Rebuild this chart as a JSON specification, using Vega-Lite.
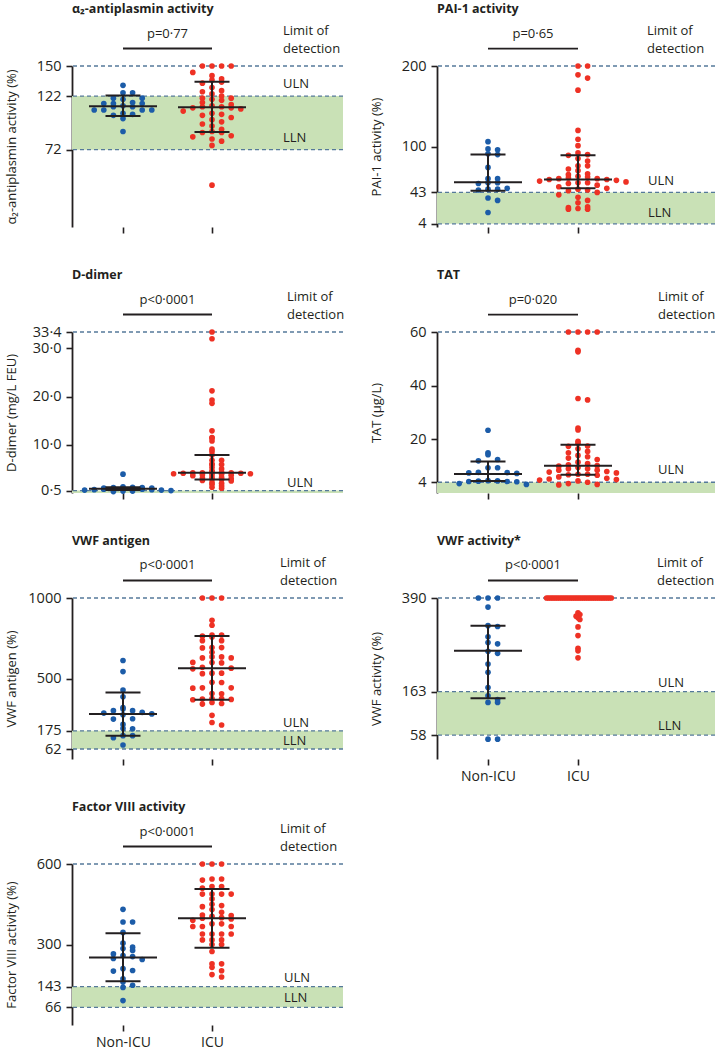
{
"$schema": "https://vega.github.io/schema/vega-lite/v6.json",
"autosize": "none",
"padding": {"left": 72, "top": 66, "right": 644, "bottom": 982},
"config": {
  "font": "Open Sans",
  "view": {"stroke": null},
  "style": {"guide-label": {"fontSize": 14.5, "fill": "#231f20"}},
  "axis": {"grid": false, "domainColor": "#231f20", "domainWidth": 1.8, "tickColor": "#231f20", "tickWidth": 1.6, "tickSize": 6, "labelColor": "#231f20", "labelFontSize": 14.5, "labelPadding": 5, "titleColor": "#231f20", "titleFontSize": 13, "titleFontWeight": "normal", "labelOverlap": false},
  "title": {"fontSize": 12.5, "fontWeight": "bold", "anchor": "start", "frame": "group", "color": "#231f20", "baseline": "alphabetic", "offset": 10},
  "text": {"fontSize": 13, "color": "#231f20"}
},
"datasets": {
  "bands": [
    {"panel": "a2", "lo": 72, "hi": 122}, {"panel": "pai", "lo": 4, "hi": 43}, {"panel": "dd", "lo": 0, "hi": 0.5}, {"panel": "tat", "lo": 0, "hi": 4},
    {"panel": "vag", "lo": 62, "hi": 175}, {"panel": "vac", "lo": 58, "hi": 163}, {"panel": "f8", "lo": 66, "hi": 143}
  ],
  "refs": [
    {"panel": "a2", "label": "Limit of\ndetection", "value": 150}, {"panel": "a2", "label": "ULN", "value": 122}, {"panel": "a2", "label": "LLN", "value": 72},
    {"panel": "pai", "label": "Limit of\ndetection", "value": 200}, {"panel": "pai", "label": "ULN", "value": 43}, {"panel": "pai", "label": "LLN", "value": 4},
    {"panel": "dd", "label": "Limit of\ndetection", "value": 33.4}, {"panel": "dd", "label": "ULN", "value": 0.5},
    {"panel": "tat", "label": "Limit of\ndetection", "value": 60}, {"panel": "tat", "label": "ULN", "value": 4},
    {"panel": "vag", "label": "Limit of\ndetection", "value": 1000}, {"panel": "vag", "label": "ULN", "value": 175}, {"panel": "vag", "label": "LLN", "value": 62},
    {"panel": "vac", "label": "Limit of\ndetection", "value": 390}, {"panel": "vac", "label": "ULN", "value": 163}, {"panel": "vac", "label": "LLN", "value": 58},
    {"panel": "f8", "label": "Limit of\ndetection", "value": 600}, {"panel": "f8", "label": "ULN", "value": 143}, {"panel": "f8", "label": "LLN", "value": 66}
  ],
  "tests": [
    {"panel": "a2", "p": "p=0·77"}, {"panel": "pai", "p": "p=0·65"}, {"panel": "dd", "p": "p<0·0001"}, {"panel": "tat", "p": "p=0·020"},
    {"panel": "vag", "p": "p<0·0001"}, {"panel": "vac", "p": "p<0·0001"}, {"panel": "f8", "p": "p<0·0001"}
  ],
  "summary": [
    {"panel": "a2", "group": "Non-ICU", "median": 112.5, "q1": 103.3, "q3": 122.4}, {"panel": "a2", "group": "ICU", "median": 111.6, "q1": 88.6, "q3": 135.3},
    {"panel": "pai", "group": "Non-ICU", "median": 55.5, "q1": 45, "q3": 90}, {"panel": "pai", "group": "ICU", "median": 59, "q1": 48, "q3": 89},
    {"panel": "dd", "group": "Non-ICU", "median": 0.9, "q1": 0.6, "q3": 1.2}, {"panel": "dd", "group": "ICU", "median": 4.2, "q1": 2.8, "q3": 7.9},
    {"panel": "tat", "group": "Non-ICU", "median": 7.1, "q1": 4.5, "q3": 11.7}, {"panel": "tat", "group": "ICU", "median": 10.2, "q1": 6.8, "q3": 18},
    {"panel": "vag", "group": "Non-ICU", "median": 279, "q1": 145, "q3": 413}, {"panel": "vag", "group": "ICU", "median": 564, "q1": 368, "q3": 764},
    {"panel": "vac", "group": "Non-ICU", "median": 262, "q1": 147, "q3": 323},
    {"panel": "f8", "group": "Non-ICU", "median": 252, "q1": 163, "q3": 342}, {"panel": "f8", "group": "ICU", "median": 398, "q1": 288, "q3": 507}
  ],
  "points": [
    {"panel":"a2","group":"Non-ICU","value":132},{"panel":"a2","group":"Non-ICU","value":125},{"panel":"a2","group":"Non-ICU","value":125},{"panel":"a2","group":"Non-ICU","value":120},{"panel":"a2","group":"Non-ICU","value":120},{"panel":"a2","group":"Non-ICU","value":119},{"panel":"a2","group":"Non-ICU","value":116},{"panel":"a2","group":"Non-ICU","value":115},{"panel":"a2","group":"Non-ICU","value":115},{"panel":"a2","group":"Non-ICU","value":115},{"panel":"a2","group":"Non-ICU","value":113},{"panel":"a2","group":"Non-ICU","value":112},{"panel":"a2","group":"Non-ICU","value":112},{"panel":"a2","group":"Non-ICU","value":109},{"panel":"a2","group":"Non-ICU","value":109},{"panel":"a2","group":"Non-ICU","value":109},{"panel":"a2","group":"Non-ICU","value":109},{"panel":"a2","group":"Non-ICU","value":106},{"panel":"a2","group":"Non-ICU","value":105},{"panel":"a2","group":"Non-ICU","value":104},{"panel":"a2","group":"Non-ICU","value":101},{"panel":"a2","group":"Non-ICU","value":89},
    {"panel":"a2","group":"ICU","value":150},{"panel":"a2","group":"ICU","value":150},{"panel":"a2","group":"ICU","value":150},{"panel":"a2","group":"ICU","value":150},{"panel":"a2","group":"ICU","value":144},{"panel":"a2","group":"ICU","value":141},{"panel":"a2","group":"ICU","value":138},{"panel":"a2","group":"ICU","value":137},{"panel":"a2","group":"ICU","value":135},{"panel":"a2","group":"ICU","value":134},{"panel":"a2","group":"ICU","value":130},{"panel":"a2","group":"ICU","value":127},{"panel":"a2","group":"ICU","value":126},{"panel":"a2","group":"ICU","value":124},{"panel":"a2","group":"ICU","value":122},{"panel":"a2","group":"ICU","value":120},{"panel":"a2","group":"ICU","value":120},{"panel":"a2","group":"ICU","value":119},{"panel":"a2","group":"ICU","value":118},{"panel":"a2","group":"ICU","value":116},{"panel":"a2","group":"ICU","value":114},{"panel":"a2","group":"ICU","value":113},{"panel":"a2","group":"ICU","value":112},{"panel":"a2","group":"ICU","value":112},{"panel":"a2","group":"ICU","value":111},{"panel":"a2","group":"ICU","value":111},{"panel":"a2","group":"ICU","value":110},{"panel":"a2","group":"ICU","value":108},{"panel":"a2","group":"ICU","value":106},{"panel":"a2","group":"ICU","value":105},{"panel":"a2","group":"ICU","value":104},{"panel":"a2","group":"ICU","value":102},{"panel":"a2","group":"ICU","value":100},{"panel":"a2","group":"ICU","value":98},{"panel":"a2","group":"ICU","value":96},{"panel":"a2","group":"ICU","value":94},{"panel":"a2","group":"ICU","value":91},{"panel":"a2","group":"ICU","value":89},{"panel":"a2","group":"ICU","value":88},{"panel":"a2","group":"ICU","value":88},{"panel":"a2","group":"ICU","value":85},{"panel":"a2","group":"ICU","value":84},{"panel":"a2","group":"ICU","value":82},{"panel":"a2","group":"ICU","value":80},{"panel":"a2","group":"ICU","value":76},{"panel":"a2","group":"ICU","value":39},
    {"panel":"pai","group":"Non-ICU","value":106},{"panel":"pai","group":"Non-ICU","value":97},{"panel":"pai","group":"Non-ICU","value":96},{"panel":"pai","group":"Non-ICU","value":91},{"panel":"pai","group":"Non-ICU","value":90},{"panel":"pai","group":"Non-ICU","value":74},{"panel":"pai","group":"Non-ICU","value":60},{"panel":"pai","group":"Non-ICU","value":60},{"panel":"pai","group":"Non-ICU","value":55},{"panel":"pai","group":"Non-ICU","value":55},{"panel":"pai","group":"Non-ICU","value":54},{"panel":"pai","group":"Non-ICU","value":48},{"panel":"pai","group":"Non-ICU","value":47},{"panel":"pai","group":"Non-ICU","value":47},{"panel":"pai","group":"Non-ICU","value":46},{"panel":"pai","group":"Non-ICU","value":36},{"panel":"pai","group":"Non-ICU","value":33},{"panel":"pai","group":"Non-ICU","value":18},
    {"panel":"pai","group":"ICU","value":200},{"panel":"pai","group":"ICU","value":200},{"panel":"pai","group":"ICU","value":189},{"panel":"pai","group":"ICU","value":185},{"panel":"pai","group":"ICU","value":170},{"panel":"pai","group":"ICU","value":120},{"panel":"pai","group":"ICU","value":109},{"panel":"pai","group":"ICU","value":101},{"panel":"pai","group":"ICU","value":92},{"panel":"pai","group":"ICU","value":90},{"panel":"pai","group":"ICU","value":89},{"panel":"pai","group":"ICU","value":85},{"panel":"pai","group":"ICU","value":82},{"panel":"pai","group":"ICU","value":76},{"panel":"pai","group":"ICU","value":76},{"panel":"pai","group":"ICU","value":72},{"panel":"pai","group":"ICU","value":70},{"panel":"pai","group":"ICU","value":66},{"panel":"pai","group":"ICU","value":65},{"panel":"pai","group":"ICU","value":63},{"panel":"pai","group":"ICU","value":62},{"panel":"pai","group":"ICU","value":61},{"panel":"pai","group":"ICU","value":60},{"panel":"pai","group":"ICU","value":60},{"panel":"pai","group":"ICU","value":59},{"panel":"pai","group":"ICU","value":59},{"panel":"pai","group":"ICU","value":58},{"panel":"pai","group":"ICU","value":57},{"panel":"pai","group":"ICU","value":56},{"panel":"pai","group":"ICU","value":55},{"panel":"pai","group":"ICU","value":55},{"panel":"pai","group":"ICU","value":54},{"panel":"pai","group":"ICU","value":52},{"panel":"pai","group":"ICU","value":50},{"panel":"pai","group":"ICU","value":48},{"panel":"pai","group":"ICU","value":47},{"panel":"pai","group":"ICU","value":46},{"panel":"pai","group":"ICU","value":45},{"panel":"pai","group":"ICU","value":43},{"panel":"pai","group":"ICU","value":40},{"panel":"pai","group":"ICU","value":37},{"panel":"pai","group":"ICU","value":33},{"panel":"pai","group":"ICU","value":30},{"panel":"pai","group":"ICU","value":25},{"panel":"pai","group":"ICU","value":24},{"panel":"pai","group":"ICU","value":23},{"panel":"pai","group":"ICU","value":22},{"panel":"pai","group":"ICU","value":22},
    {"panel":"dd","group":"Non-ICU","value":3.9},{"panel":"dd","group":"Non-ICU","value":1.3},{"panel":"dd","group":"Non-ICU","value":1.2},{"panel":"dd","group":"Non-ICU","value":1.1},{"panel":"dd","group":"Non-ICU","value":1.1},{"panel":"dd","group":"Non-ICU","value":1.0},{"panel":"dd","group":"Non-ICU","value":1.0},{"panel":"dd","group":"Non-ICU","value":0.9},{"panel":"dd","group":"Non-ICU","value":0.9},{"panel":"dd","group":"Non-ICU","value":0.9},{"panel":"dd","group":"Non-ICU","value":0.8},{"panel":"dd","group":"Non-ICU","value":0.8},{"panel":"dd","group":"Non-ICU","value":0.7},{"panel":"dd","group":"Non-ICU","value":0.7},{"panel":"dd","group":"Non-ICU","value":0.6},{"panel":"dd","group":"Non-ICU","value":0.6},{"panel":"dd","group":"Non-ICU","value":0.5},{"panel":"dd","group":"Non-ICU","value":0.4},{"panel":"dd","group":"Non-ICU","value":0.4},{"panel":"dd","group":"Non-ICU","value":0.3},
    {"panel":"dd","group":"ICU","value":33.4},{"panel":"dd","group":"ICU","value":32.0},{"panel":"dd","group":"ICU","value":21.2},{"panel":"dd","group":"ICU","value":19.3},{"panel":"dd","group":"ICU","value":18.6},{"panel":"dd","group":"ICU","value":12.9},{"panel":"dd","group":"ICU","value":11.5},{"panel":"dd","group":"ICU","value":11.4},{"panel":"dd","group":"ICU","value":10.8},{"panel":"dd","group":"ICU","value":9.1},{"panel":"dd","group":"ICU","value":8.6},{"panel":"dd","group":"ICU","value":7.9},{"panel":"dd","group":"ICU","value":6.8},{"panel":"dd","group":"ICU","value":6.8},{"panel":"dd","group":"ICU","value":6.0},{"panel":"dd","group":"ICU","value":5.9},{"panel":"dd","group":"ICU","value":5.9},{"panel":"dd","group":"ICU","value":5.3},{"panel":"dd","group":"ICU","value":5.0},{"panel":"dd","group":"ICU","value":4.6},{"panel":"dd","group":"ICU","value":4.4},{"panel":"dd","group":"ICU","value":4.3},{"panel":"dd","group":"ICU","value":4.2},{"panel":"dd","group":"ICU","value":4.2},{"panel":"dd","group":"ICU","value":4.2},{"panel":"dd","group":"ICU","value":4.1},{"panel":"dd","group":"ICU","value":4.1},{"panel":"dd","group":"ICU","value":4.0},{"panel":"dd","group":"ICU","value":4.0},{"panel":"dd","group":"ICU","value":3.9},{"panel":"dd","group":"ICU","value":3.9},{"panel":"dd","group":"ICU","value":3.8},{"panel":"dd","group":"ICU","value":3.7},{"panel":"dd","group":"ICU","value":3.6},{"panel":"dd","group":"ICU","value":3.3},{"panel":"dd","group":"ICU","value":3.2},{"panel":"dd","group":"ICU","value":3.1},{"panel":"dd","group":"ICU","value":3.0},{"panel":"dd","group":"ICU","value":2.9},{"panel":"dd","group":"ICU","value":2.8},{"panel":"dd","group":"ICU","value":2.6},{"panel":"dd","group":"ICU","value":2.5},{"panel":"dd","group":"ICU","value":2.2},{"panel":"dd","group":"ICU","value":2.0},{"panel":"dd","group":"ICU","value":1.8},{"panel":"dd","group":"ICU","value":1.5},{"panel":"dd","group":"ICU","value":1.2},{"panel":"dd","group":"ICU","value":1.0},
    {"panel":"tat","group":"Non-ICU","value":23.4},{"panel":"tat","group":"Non-ICU","value":15},{"panel":"tat","group":"Non-ICU","value":14.3},{"panel":"tat","group":"Non-ICU","value":12.5},{"panel":"tat","group":"Non-ICU","value":12},{"panel":"tat","group":"Non-ICU","value":9.4},{"panel":"tat","group":"Non-ICU","value":9.4},{"panel":"tat","group":"Non-ICU","value":7.7},{"panel":"tat","group":"Non-ICU","value":7.6},{"panel":"tat","group":"Non-ICU","value":7.5},{"panel":"tat","group":"Non-ICU","value":7.3},{"panel":"tat","group":"Non-ICU","value":4.6},{"panel":"tat","group":"Non-ICU","value":4.5},{"panel":"tat","group":"Non-ICU","value":4.4},{"panel":"tat","group":"Non-ICU","value":4.3},{"panel":"tat","group":"Non-ICU","value":4.3},{"panel":"tat","group":"Non-ICU","value":4.2},{"panel":"tat","group":"Non-ICU","value":3.5},{"panel":"tat","group":"Non-ICU","value":3.2},
    {"panel":"tat","group":"ICU","value":60},{"panel":"tat","group":"ICU","value":60},{"panel":"tat","group":"ICU","value":60},{"panel":"tat","group":"ICU","value":60},{"panel":"tat","group":"ICU","value":53.2},{"panel":"tat","group":"ICU","value":52.6},{"panel":"tat","group":"ICU","value":35.2},{"panel":"tat","group":"ICU","value":34.7},{"panel":"tat","group":"ICU","value":24.2},{"panel":"tat","group":"ICU","value":23.5},{"panel":"tat","group":"ICU","value":19.3},{"panel":"tat","group":"ICU","value":18.5},{"panel":"tat","group":"ICU","value":17.5},{"panel":"tat","group":"ICU","value":17.4},{"panel":"tat","group":"ICU","value":16.5},{"panel":"tat","group":"ICU","value":15.5},{"panel":"tat","group":"ICU","value":15},{"panel":"tat","group":"ICU","value":14},{"panel":"tat","group":"ICU","value":13.5},{"panel":"tat","group":"ICU","value":13},{"panel":"tat","group":"ICU","value":12.5},{"panel":"tat","group":"ICU","value":11.5},{"panel":"tat","group":"ICU","value":11},{"panel":"tat","group":"ICU","value":10.5},{"panel":"tat","group":"ICU","value":10.2},{"panel":"tat","group":"ICU","value":10},{"panel":"tat","group":"ICU","value":9.5},{"panel":"tat","group":"ICU","value":9},{"panel":"tat","group":"ICU","value":9},{"panel":"tat","group":"ICU","value":8.5},{"panel":"tat","group":"ICU","value":8.5},{"panel":"tat","group":"ICU","value":8},{"panel":"tat","group":"ICU","value":7.8},{"panel":"tat","group":"ICU","value":7.5},{"panel":"tat","group":"ICU","value":7},{"panel":"tat","group":"ICU","value":7},{"panel":"tat","group":"ICU","value":6.8},{"panel":"tat","group":"ICU","value":6.6},{"panel":"tat","group":"ICU","value":6},{"panel":"tat","group":"ICU","value":5.5},{"panel":"tat","group":"ICU","value":5.2},{"panel":"tat","group":"ICU","value":5},{"panel":"tat","group":"ICU","value":4.8},{"panel":"tat","group":"ICU","value":4.5},{"panel":"tat","group":"ICU","value":4},{"panel":"tat","group":"ICU","value":3.5},{"panel":"tat","group":"ICU","value":3.2},{"panel":"tat","group":"ICU","value":3},
    {"panel":"vag","group":"Non-ICU","value":612},{"panel":"vag","group":"Non-ICU","value":543},{"panel":"vag","group":"Non-ICU","value":428},{"panel":"vag","group":"Non-ICU","value":386},{"panel":"vag","group":"Non-ICU","value":320},{"panel":"vag","group":"Non-ICU","value":310},{"panel":"vag","group":"Non-ICU","value":300},{"panel":"vag","group":"Non-ICU","value":300},{"panel":"vag","group":"Non-ICU","value":290},{"panel":"vag","group":"Non-ICU","value":285},{"panel":"vag","group":"Non-ICU","value":280},{"panel":"vag","group":"Non-ICU","value":275},{"panel":"vag","group":"Non-ICU","value":250},{"panel":"vag","group":"Non-ICU","value":248},{"panel":"vag","group":"Non-ICU","value":215},{"panel":"vag","group":"Non-ICU","value":190},{"panel":"vag","group":"Non-ICU","value":188},{"panel":"vag","group":"Non-ICU","value":145},{"panel":"vag","group":"Non-ICU","value":145},{"panel":"vag","group":"Non-ICU","value":132},{"panel":"vag","group":"Non-ICU","value":87},
    {"panel":"vag","group":"ICU","value":1000},{"panel":"vag","group":"ICU","value":1000},{"panel":"vag","group":"ICU","value":1000},{"panel":"vag","group":"ICU","value":862},{"panel":"vag","group":"ICU","value":831},{"panel":"vag","group":"ICU","value":770},{"panel":"vag","group":"ICU","value":770},{"panel":"vag","group":"ICU","value":763},{"panel":"vag","group":"ICU","value":758},{"panel":"vag","group":"ICU","value":735},{"panel":"vag","group":"ICU","value":735},{"panel":"vag","group":"ICU","value":692},{"panel":"vag","group":"ICU","value":692},{"panel":"vag","group":"ICU","value":690},{"panel":"vag","group":"ICU","value":663},{"panel":"vag","group":"ICU","value":634},{"panel":"vag","group":"ICU","value":634},{"panel":"vag","group":"ICU","value":628},{"panel":"vag","group":"ICU","value":628},{"panel":"vag","group":"ICU","value":600},{"panel":"vag","group":"ICU","value":599},{"panel":"vag","group":"ICU","value":597},{"panel":"vag","group":"ICU","value":570},{"panel":"vag","group":"ICU","value":564},{"panel":"vag","group":"ICU","value":560},{"panel":"vag","group":"ICU","value":533},{"panel":"vag","group":"ICU","value":533},{"panel":"vag","group":"ICU","value":530},{"panel":"vag","group":"ICU","value":477},{"panel":"vag","group":"ICU","value":475},{"panel":"vag","group":"ICU","value":442},{"panel":"vag","group":"ICU","value":442},{"panel":"vag","group":"ICU","value":440},{"panel":"vag","group":"ICU","value":407},{"panel":"vag","group":"ICU","value":405},{"panel":"vag","group":"ICU","value":376},{"panel":"vag","group":"ICU","value":376},{"panel":"vag","group":"ICU","value":372},{"panel":"vag","group":"ICU","value":370},{"panel":"vag","group":"ICU","value":368},{"panel":"vag","group":"ICU","value":351},{"panel":"vag","group":"ICU","value":345},{"panel":"vag","group":"ICU","value":341},{"panel":"vag","group":"ICU","value":271},{"panel":"vag","group":"ICU","value":227},{"panel":"vag","group":"ICU","value":211},
    {"panel":"vac","group":"Non-ICU","value":390},{"panel":"vac","group":"Non-ICU","value":390},{"panel":"vac","group":"Non-ICU","value":390},{"panel":"vac","group":"Non-ICU","value":368},{"panel":"vac","group":"Non-ICU","value":323},{"panel":"vac","group":"Non-ICU","value":321},{"panel":"vac","group":"Non-ICU","value":296},{"panel":"vac","group":"Non-ICU","value":282},{"panel":"vac","group":"Non-ICU","value":279},{"panel":"vac","group":"Non-ICU","value":261},{"panel":"vac","group":"Non-ICU","value":256},{"panel":"vac","group":"Non-ICU","value":230},{"panel":"vac","group":"Non-ICU","value":210},{"panel":"vac","group":"Non-ICU","value":173},{"panel":"vac","group":"Non-ICU","value":153},{"panel":"vac","group":"Non-ICU","value":144},{"panel":"vac","group":"Non-ICU","value":137},{"panel":"vac","group":"Non-ICU","value":137},{"panel":"vac","group":"Non-ICU","value":48},{"panel":"vac","group":"Non-ICU","value":48},
    {"panel":"vac","group":"ICU","value":390},{"panel":"vac","group":"ICU","value":390},{"panel":"vac","group":"ICU","value":390},{"panel":"vac","group":"ICU","value":390},{"panel":"vac","group":"ICU","value":390},{"panel":"vac","group":"ICU","value":390},{"panel":"vac","group":"ICU","value":390},{"panel":"vac","group":"ICU","value":390},{"panel":"vac","group":"ICU","value":390},{"panel":"vac","group":"ICU","value":390},{"panel":"vac","group":"ICU","value":390},{"panel":"vac","group":"ICU","value":390},{"panel":"vac","group":"ICU","value":390},{"panel":"vac","group":"ICU","value":390},{"panel":"vac","group":"ICU","value":390},{"panel":"vac","group":"ICU","value":390},{"panel":"vac","group":"ICU","value":390},{"panel":"vac","group":"ICU","value":390},{"panel":"vac","group":"ICU","value":390},{"panel":"vac","group":"ICU","value":390},{"panel":"vac","group":"ICU","value":390},{"panel":"vac","group":"ICU","value":390},{"panel":"vac","group":"ICU","value":390},{"panel":"vac","group":"ICU","value":390},{"panel":"vac","group":"ICU","value":390},{"panel":"vac","group":"ICU","value":390},{"panel":"vac","group":"ICU","value":390},{"panel":"vac","group":"ICU","value":390},{"panel":"vac","group":"ICU","value":390},{"panel":"vac","group":"ICU","value":390},{"panel":"vac","group":"ICU","value":390},{"panel":"vac","group":"ICU","value":390},{"panel":"vac","group":"ICU","value":390},{"panel":"vac","group":"ICU","value":390},{"panel":"vac","group":"ICU","value":390},{"panel":"vac","group":"ICU","value":390},{"panel":"vac","group":"ICU","value":354},{"panel":"vac","group":"ICU","value":350},{"panel":"vac","group":"ICU","value":346},{"panel":"vac","group":"ICU","value":342},{"panel":"vac","group":"ICU","value":338},{"panel":"vac","group":"ICU","value":320},{"panel":"vac","group":"ICU","value":299},{"panel":"vac","group":"ICU","value":268},{"panel":"vac","group":"ICU","value":262},{"panel":"vac","group":"ICU","value":245},
    {"panel":"f8","group":"Non-ICU","value":431},{"panel":"f8","group":"Non-ICU","value":384},{"panel":"f8","group":"Non-ICU","value":384},{"panel":"f8","group":"Non-ICU","value":345},{"panel":"f8","group":"Non-ICU","value":305},{"panel":"f8","group":"Non-ICU","value":290},{"panel":"f8","group":"Non-ICU","value":285},{"panel":"f8","group":"Non-ICU","value":278},{"panel":"f8","group":"Non-ICU","value":265},{"panel":"f8","group":"Non-ICU","value":259},{"panel":"f8","group":"Non-ICU","value":255},{"panel":"f8","group":"Non-ICU","value":248},{"panel":"f8","group":"Non-ICU","value":244},{"panel":"f8","group":"Non-ICU","value":210},{"panel":"f8","group":"Non-ICU","value":203},{"panel":"f8","group":"Non-ICU","value":201},{"panel":"f8","group":"Non-ICU","value":172},{"panel":"f8","group":"Non-ICU","value":160},{"panel":"f8","group":"Non-ICU","value":148},{"panel":"f8","group":"Non-ICU","value":140},{"panel":"f8","group":"Non-ICU","value":91},
    {"panel":"f8","group":"ICU","value":600},{"panel":"f8","group":"ICU","value":600},{"panel":"f8","group":"ICU","value":600},{"panel":"f8","group":"ICU","value":544},{"panel":"f8","group":"ICU","value":544},{"panel":"f8","group":"ICU","value":540},{"panel":"f8","group":"ICU","value":516},{"panel":"f8","group":"ICU","value":516},{"panel":"f8","group":"ICU","value":510},{"panel":"f8","group":"ICU","value":488},{"panel":"f8","group":"ICU","value":488},{"panel":"f8","group":"ICU","value":488},{"panel":"f8","group":"ICU","value":488},{"panel":"f8","group":"ICU","value":470},{"panel":"f8","group":"ICU","value":450},{"panel":"f8","group":"ICU","value":445},{"panel":"f8","group":"ICU","value":441},{"panel":"f8","group":"ICU","value":430},{"panel":"f8","group":"ICU","value":420},{"panel":"f8","group":"ICU","value":410},{"panel":"f8","group":"ICU","value":408},{"panel":"f8","group":"ICU","value":405},{"panel":"f8","group":"ICU","value":400},{"panel":"f8","group":"ICU","value":398},{"panel":"f8","group":"ICU","value":395},{"panel":"f8","group":"ICU","value":390},{"panel":"f8","group":"ICU","value":377},{"panel":"f8","group":"ICU","value":377},{"panel":"f8","group":"ICU","value":367},{"panel":"f8","group":"ICU","value":367},{"panel":"f8","group":"ICU","value":367},{"panel":"f8","group":"ICU","value":339},{"panel":"f8","group":"ICU","value":339},{"panel":"f8","group":"ICU","value":339},{"panel":"f8","group":"ICU","value":339},{"panel":"f8","group":"ICU","value":317},{"panel":"f8","group":"ICU","value":317},{"panel":"f8","group":"ICU","value":317},{"panel":"f8","group":"ICU","value":300},{"panel":"f8","group":"ICU","value":300},{"panel":"f8","group":"ICU","value":274},{"panel":"f8","group":"ICU","value":228},{"panel":"f8","group":"ICU","value":228},{"panel":"f8","group":"ICU","value":215},{"panel":"f8","group":"ICU","value":202},{"panel":"f8","group":"ICU","value":188},{"panel":"f8","group":"ICU","value":179}
  ]
},
"columns": 2,
"spacing": {"row": 105, "column": 94},
"bounds": "flush",
"concat": [
  {
    "width": 271, "height": 161,
    "title": {"text": "α₂-antiplasmin activity"},
    "layer": [
      {"data": {"name": "bands"}, "transform": [{"filter": "datum.panel==='a2'"}], "mark": {"type": "rect", "color": "#c9e1b6"},
       "encoding": {"y": {"field": "lo", "type": "quantitative", "scale": {"domain": [0, 150], "nice": false}, "axis": {"title": "α₂-antiplasmin activity (%)", "values": [72, 122, 150], "labelFontSize": 14.5, "titleX": -54, "titleBaseline": "bottom"}}, "y2": {"field": "hi"}}},
      {"data": {"name": "refs"}, "transform": [{"filter": "datum.panel==='a2'"}], "mark": {"type": "rule", "strokeDash": [4, 3], "color": "#55799a", "strokeWidth": 1.3}, "encoding": {"y": {"field": "value", "type": "quantitative"}}},
      {"mark": {"type": "rule", "color": "#231f20", "strokeWidth": 1.8}, "encoding": {"y": {"datum": 0}}},
      {"data": {"name": "points"}, "transform": [{"filter": "datum.panel==='a2'"}, {"bin": {"step": 6}, "field": "value", "as": "vb"}, {"window": [{"op": "row_number", "as": "slot"}], "groupby": ["group", "vb"], "sort": [{"field": "value", "order": "descending"}]}],
       "mark": {"type": "circle", "size": 32, "opacity": 1},
       "encoding": {
         "x": {"field": "group", "type": "nominal", "scale": {"type": "point", "domain": ["Non-ICU", "ICU"], "range": [51, 140], "padding": 0}, "axis": {"title": null, "domain": false, "labels": false, "ticks": true, "tickSize": 6}},
         "xOffset": {"field": "slot", "type": "quantitative", "scale": {"domain": [1,2,3,4,5,6,7,8,9,10,11,12,13,14,15,16,17,18,19,20,21], "range": [0,9.6,-9.6,19.2,-19.2,28.8,-28.8,38.4,-38.4,48,-48,57.6,-57.6,67.2,-67.2,76.8,-76.8,86.4,-86.4,96,-96]}},
         "y": {"field": "value", "type": "quantitative", "axis": {"title": "α₂-antiplasmin activity (%)", "values": [72, 122, 150], "labelFontSize": 14.5, "titleX": -54, "titleBaseline": "bottom"}},
         "color": {"field": "group", "type": "nominal", "scale": {"domain": ["Non-ICU", "ICU"], "range": ["#1c5ca8", "#ee3124"]}, "legend": null}}},
      {"data": {"name": "summary"}, "transform": [{"filter": "datum.panel==='a2'"}], "mark": {"type": "tick", "orient": "horizontal", "size": 68, "thickness": 2, "color": "#231f20", "opacity": 1}, "encoding": {"x": {"field": "group", "type": "nominal"}, "y": {"field": "median", "type": "quantitative"}}},
      {"data": {"name": "summary"}, "transform": [{"filter": "datum.panel==='a2'"}], "mark": {"type": "tick", "orient": "horizontal", "size": 35, "thickness": 2, "color": "#231f20", "opacity": 1}, "encoding": {"x": {"field": "group", "type": "nominal"}, "y": {"field": "q1", "type": "quantitative"}}},
      {"data": {"name": "summary"}, "transform": [{"filter": "datum.panel==='a2'"}], "mark": {"type": "tick", "orient": "horizontal", "size": 35, "thickness": 2, "color": "#231f20", "opacity": 1}, "encoding": {"x": {"field": "group", "type": "nominal"}, "y": {"field": "q3", "type": "quantitative"}}},
      {"data": {"name": "summary"}, "transform": [{"filter": "datum.panel==='a2'"}], "mark": {"type": "rule", "strokeWidth": 2, "color": "#231f20"}, "encoding": {"x": {"field": "group", "type": "nominal"}, "y": {"field": "q1", "type": "quantitative"}, "y2": {"field": "q3"}}},
      {"data": {"name": "points"}, "transform": [{"filter": "datum.panel==='a2'"}, {"aggregate": [{"op": "count", "as": "n"}], "groupby": ["group"]}], "mark": {"type": "line", "color": "#231f20", "strokeWidth": 1.8}, "encoding": {"x": {"field": "group", "type": "nominal"}, "y": {"datum": 166.3}}},
      {"data": {"name": "tests"}, "transform": [{"filter": "datum.panel==='a2'"}], "mark": {"type": "text", "align": "center", "baseline": "alphabetic", "dx": 44.5, "dy": -11}, "encoding": {"x": {"datum": "Non-ICU"}, "y": {"datum": 166.3}, "text": {"field": "p"}}},
      {"data": {"name": "refs"}, "transform": [{"filter": "datum.panel==='a2' && indexof(datum.label,'Limit')===0"}], "mark": {"type": "text", "align": "left", "baseline": "alphabetic", "dx": 71, "dy": -31, "lineBreak": "\n", "lineHeight": 18}, "encoding": {"x": {"datum": "ICU"}, "y": {"field": "value", "type": "quantitative"}, "text": {"field": "label"}}},
      {"data": {"name": "refs"}, "transform": [{"filter": "datum.panel==='a2' && indexof(datum.label,'Limit')!==0"}], "mark": {"type": "text", "align": "left", "baseline": "alphabetic", "dx": 71, "dy": -8}, "encoding": {"x": {"datum": "ICU"}, "y": {"field": "value", "type": "quantitative"}, "text": {"field": "label"}}}
    ]
  },
  {
    "width": 278, "height": 161,
    "title": {"text": "PAI-1 activity"},
    "layer": [
      {"data": {"name": "bands"}, "transform": [{"filter": "datum.panel==='pai'"}], "mark": {"type": "rect", "color": "#c9e1b6"},
       "encoding": {"y": {"field": "lo", "type": "quantitative", "scale": {"domain": [0, 200], "nice": false}, "axis": {"title": "PAI-1 activity (%)", "values": [4, 43, 100, 200], "labelFontSize": 14.5, "titleX": -54, "titleBaseline": "bottom"}}, "y2": {"field": "hi"}}},
      {"data": {"name": "refs"}, "transform": [{"filter": "datum.panel==='pai'"}], "mark": {"type": "rule", "strokeDash": [4, 3], "color": "#55799a", "strokeWidth": 1.3}, "encoding": {"y": {"field": "value", "type": "quantitative"}}},
      {"mark": {"type": "rule", "color": "#231f20", "strokeWidth": 1.8}, "encoding": {"y": {"datum": 0}}},
      {"data": {"name": "points"}, "transform": [{"filter": "datum.panel==='pai'"}, {"bin": {"step": 8}, "field": "value", "as": "vb"}, {"window": [{"op": "row_number", "as": "slot"}], "groupby": ["group", "vb"], "sort": [{"field": "value", "order": "descending"}]}],
       "mark": {"type": "circle", "size": 32, "opacity": 1},
       "encoding": {
         "x": {"field": "group", "type": "nominal", "scale": {"type": "point", "domain": ["Non-ICU", "ICU"], "range": [51, 141], "padding": 0}, "axis": {"title": null, "domain": false, "labels": false, "ticks": true, "tickSize": 6}},
         "xOffset": {"field": "slot", "type": "quantitative", "scale": {"domain": [1,2,3,4,5,6,7,8,9,10,11,12,13,14,15,16,17,18,19,20,21], "range": [0,9.6,-9.6,19.2,-19.2,28.8,-28.8,38.4,-38.4,48,-48,57.6,-57.6,67.2,-67.2,76.8,-76.8,86.4,-86.4,96,-96]}},
         "y": {"field": "value", "type": "quantitative", "axis": {"title": "PAI-1 activity (%)", "values": [4, 43, 100, 200], "labelFontSize": 14.5, "titleX": -54, "titleBaseline": "bottom"}},
         "color": {"field": "group", "type": "nominal", "scale": {"domain": ["Non-ICU", "ICU"], "range": ["#1c5ca8", "#ee3124"]}, "legend": null}}},
      {"data": {"name": "summary"}, "transform": [{"filter": "datum.panel==='pai'"}], "mark": {"type": "tick", "orient": "horizontal", "size": 68, "thickness": 2, "color": "#231f20", "opacity": 1}, "encoding": {"x": {"field": "group", "type": "nominal"}, "y": {"field": "median", "type": "quantitative"}}},
      {"data": {"name": "summary"}, "transform": [{"filter": "datum.panel==='pai'"}], "mark": {"type": "tick", "orient": "horizontal", "size": 35, "thickness": 2, "color": "#231f20", "opacity": 1}, "encoding": {"x": {"field": "group", "type": "nominal"}, "y": {"field": "q1", "type": "quantitative"}}},
      {"data": {"name": "summary"}, "transform": [{"filter": "datum.panel==='pai'"}], "mark": {"type": "tick", "orient": "horizontal", "size": 35, "thickness": 2, "color": "#231f20", "opacity": 1}, "encoding": {"x": {"field": "group", "type": "nominal"}, "y": {"field": "q3", "type": "quantitative"}}},
      {"data": {"name": "summary"}, "transform": [{"filter": "datum.panel==='pai'"}], "mark": {"type": "rule", "strokeWidth": 2, "color": "#231f20"}, "encoding": {"x": {"field": "group", "type": "nominal"}, "y": {"field": "q1", "type": "quantitative"}, "y2": {"field": "q3"}}},
      {"data": {"name": "points"}, "transform": [{"filter": "datum.panel==='pai'"}, {"aggregate": [{"op": "count", "as": "n"}], "groupby": ["group"]}], "mark": {"type": "line", "color": "#231f20", "strokeWidth": 1.8}, "encoding": {"x": {"field": "group", "type": "nominal"}, "y": {"datum": 221.7}}},
      {"data": {"name": "tests"}, "transform": [{"filter": "datum.panel==='pai'"}], "mark": {"type": "text", "align": "center", "baseline": "alphabetic", "dx": 45, "dy": -11}, "encoding": {"x": {"datum": "Non-ICU"}, "y": {"datum": 221.7}, "text": {"field": "p"}}},
      {"data": {"name": "refs"}, "transform": [{"filter": "datum.panel==='pai' && indexof(datum.label,'Limit')===0"}], "mark": {"type": "text", "align": "left", "baseline": "alphabetic", "dx": 69, "dy": -31, "lineBreak": "\n", "lineHeight": 18}, "encoding": {"x": {"datum": "ICU"}, "y": {"field": "value", "type": "quantitative"}, "text": {"field": "label"}}},
      {"data": {"name": "refs"}, "transform": [{"filter": "datum.panel==='pai' && indexof(datum.label,'Limit')!==0"}], "mark": {"type": "text", "align": "left", "baseline": "alphabetic", "dx": 70, "dy": -7}, "encoding": {"x": {"datum": "ICU"}, "y": {"field": "value", "type": "quantitative"}, "text": {"field": "label"}}}
    ]
  },
  {
    "width": 271, "height": 161,
    "title": {"text": "D-dimer"},
    "layer": [
      {"data": {"name": "bands"}, "transform": [{"filter": "datum.panel==='dd'"}], "mark": {"type": "rect", "color": "#c9e1b6"},
       "encoding": {"y": {"field": "lo", "type": "quantitative", "scale": {"domain": [0, 33.4], "nice": false}, "axis": {"title": "D-dimer (mg/L FEU)", "values": [0.5, 10, 20, 30, 33.4], "labelFontSize": 14.5, "labelExpr": "replace(format(datum.value, '.1f'), '.', '·')", "titleX": -54, "titleBaseline": "bottom"}}, "y2": {"field": "hi"}}},
      {"data": {"name": "refs"}, "transform": [{"filter": "datum.panel==='dd'"}], "mark": {"type": "rule", "strokeDash": [4, 3], "color": "#55799a", "strokeWidth": 1.3}, "encoding": {"y": {"field": "value", "type": "quantitative"}}},
      {"mark": {"type": "rule", "color": "#231f20", "strokeWidth": 1.8}, "encoding": {"y": {"datum": 0}}},
      {"data": {"name": "points"}, "transform": [{"filter": "datum.panel==='dd'"}, {"bin": {"step": 0.5}, "field": "value", "as": "vb"}, {"window": [{"op": "row_number", "as": "slot"}], "groupby": ["group", "vb"], "sort": [{"field": "value", "order": "descending"}]}],
       "mark": {"type": "circle", "size": 32, "opacity": 1},
       "encoding": {
         "x": {"field": "group", "type": "nominal", "scale": {"type": "point", "domain": ["Non-ICU", "ICU"], "range": [51, 140], "padding": 0}, "axis": {"title": null, "domain": false, "labels": false, "ticks": true, "tickSize": 6}},
         "xOffset": {"field": "slot", "type": "quantitative", "scale": {"domain": [1,2,3,4,5,6,7,8,9,10,11,12,13,14,15,16,17,18,19,20,21], "range": [0,5.5,-5.5,11,-11,16.5,-16.5,22,-22,27.5,-27.5,33,-33,38.5,-38.5,44,-44,49.5,-49.5,55,-55]}},
         "y": {"field": "value", "type": "quantitative", "axis": {"title": "D-dimer (mg/L FEU)", "values": [0.5, 10, 20, 30, 33.4], "labelFontSize": 14.5, "labelExpr": "replace(format(datum.value, '.1f'), '.', '·')", "titleX": -54, "titleBaseline": "bottom"}},
         "color": {"field": "group", "type": "nominal", "scale": {"domain": ["Non-ICU", "ICU"], "range": ["#1c5ca8", "#ee3124"]}, "legend": null}}},
      {"data": {"name": "summary"}, "transform": [{"filter": "datum.panel==='dd'"}], "mark": {"type": "tick", "orient": "horizontal", "size": 68, "thickness": 2, "color": "#231f20", "opacity": 1}, "encoding": {"x": {"field": "group", "type": "nominal"}, "y": {"field": "median", "type": "quantitative"}}},
      {"data": {"name": "summary"}, "transform": [{"filter": "datum.panel==='dd'"}], "mark": {"type": "tick", "orient": "horizontal", "size": 35, "thickness": 2, "color": "#231f20", "opacity": 1}, "encoding": {"x": {"field": "group", "type": "nominal"}, "y": {"field": "q1", "type": "quantitative"}}},
      {"data": {"name": "summary"}, "transform": [{"filter": "datum.panel==='dd'"}], "mark": {"type": "tick", "orient": "horizontal", "size": 35, "thickness": 2, "color": "#231f20", "opacity": 1}, "encoding": {"x": {"field": "group", "type": "nominal"}, "y": {"field": "q3", "type": "quantitative"}}},
      {"data": {"name": "summary"}, "transform": [{"filter": "datum.panel==='dd'"}], "mark": {"type": "rule", "strokeWidth": 2, "color": "#231f20"}, "encoding": {"x": {"field": "group", "type": "nominal"}, "y": {"field": "q1", "type": "quantitative"}, "y2": {"field": "q3"}}},
      {"data": {"name": "points"}, "transform": [{"filter": "datum.panel==='dd'"}, {"aggregate": [{"op": "count", "as": "n"}], "groupby": ["group"]}], "mark": {"type": "line", "color": "#231f20", "strokeWidth": 1.8}, "encoding": {"x": {"field": "group", "type": "nominal"}, "y": {"datum": 37.03}}},
      {"data": {"name": "tests"}, "transform": [{"filter": "datum.panel==='dd'"}], "mark": {"type": "text", "align": "center", "baseline": "alphabetic", "dx": 44.5, "dy": -11}, "encoding": {"x": {"datum": "Non-ICU"}, "y": {"datum": 37.03}, "text": {"field": "p"}}},
      {"data": {"name": "refs"}, "transform": [{"filter": "datum.panel==='dd' && indexof(datum.label,'Limit')===0"}], "mark": {"type": "text", "align": "left", "baseline": "alphabetic", "dx": 75, "dy": -31, "lineBreak": "\n", "lineHeight": 18}, "encoding": {"x": {"datum": "ICU"}, "y": {"field": "value", "type": "quantitative"}, "text": {"field": "label"}}},
      {"data": {"name": "refs"}, "transform": [{"filter": "datum.panel==='dd' && indexof(datum.label,'Limit')!==0"}], "mark": {"type": "text", "align": "left", "baseline": "alphabetic", "dx": 75, "dy": -4}, "encoding": {"x": {"datum": "ICU"}, "y": {"field": "value", "type": "quantitative"}, "text": {"field": "label"}}}
    ]
  },
  {
    "width": 278, "height": 161,
    "title": {"text": "TAT"},
    "layer": [
      {"data": {"name": "bands"}, "transform": [{"filter": "datum.panel==='tat'"}], "mark": {"type": "rect", "color": "#c9e1b6"},
       "encoding": {"y": {"field": "lo", "type": "quantitative", "scale": {"domain": [0, 60], "nice": false}, "axis": {"title": "TAT (μg/L)", "values": [4, 20, 40, 60], "labelFontSize": 14.5, "titleX": -54, "titleBaseline": "bottom"}}, "y2": {"field": "hi"}}},
      {"data": {"name": "refs"}, "transform": [{"filter": "datum.panel==='tat'"}], "mark": {"type": "rule", "strokeDash": [4, 3], "color": "#55799a", "strokeWidth": 1.3}, "encoding": {"y": {"field": "value", "type": "quantitative"}}},
      {"mark": {"type": "rule", "color": "#231f20", "strokeWidth": 1.8}, "encoding": {"y": {"datum": 0}}},
      {"data": {"name": "points"}, "transform": [{"filter": "datum.panel==='tat'"}, {"bin": {"step": 2.4}, "field": "value", "as": "vb"}, {"window": [{"op": "row_number", "as": "slot"}], "groupby": ["group", "vb"], "sort": [{"field": "value", "order": "descending"}]}],
       "mark": {"type": "circle", "size": 32, "opacity": 1},
       "encoding": {
         "x": {"field": "group", "type": "nominal", "scale": {"type": "point", "domain": ["Non-ICU", "ICU"], "range": [51, 141], "padding": 0}, "axis": {"title": null, "domain": false, "labels": false, "ticks": true, "tickSize": 6}},
         "xOffset": {"field": "slot", "type": "quantitative", "scale": {"domain": [1,2,3,4,5,6,7,8,9,10,11,12,13,14,15,16,17,18,19,20,21], "range": [0,9.6,-9.6,19.2,-19.2,28.8,-28.8,38.4,-38.4,48,-48,57.6,-57.6,67.2,-67.2,76.8,-76.8,86.4,-86.4,96,-96]}},
         "y": {"field": "value", "type": "quantitative", "axis": {"title": "TAT (μg/L)", "values": [4, 20, 40, 60], "labelFontSize": 14.5, "titleX": -54, "titleBaseline": "bottom"}},
         "color": {"field": "group", "type": "nominal", "scale": {"domain": ["Non-ICU", "ICU"], "range": ["#1c5ca8", "#ee3124"]}, "legend": null}}},
      {"data": {"name": "summary"}, "transform": [{"filter": "datum.panel==='tat'"}], "mark": {"type": "tick", "orient": "horizontal", "size": 68, "thickness": 2, "color": "#231f20", "opacity": 1}, "encoding": {"x": {"field": "group", "type": "nominal"}, "y": {"field": "median", "type": "quantitative"}}},
      {"data": {"name": "summary"}, "transform": [{"filter": "datum.panel==='tat'"}], "mark": {"type": "tick", "orient": "horizontal", "size": 35, "thickness": 2, "color": "#231f20", "opacity": 1}, "encoding": {"x": {"field": "group", "type": "nominal"}, "y": {"field": "q1", "type": "quantitative"}}},
      {"data": {"name": "summary"}, "transform": [{"filter": "datum.panel==='tat'"}], "mark": {"type": "tick", "orient": "horizontal", "size": 35, "thickness": 2, "color": "#231f20", "opacity": 1}, "encoding": {"x": {"field": "group", "type": "nominal"}, "y": {"field": "q3", "type": "quantitative"}}},
      {"data": {"name": "summary"}, "transform": [{"filter": "datum.panel==='tat'"}], "mark": {"type": "rule", "strokeWidth": 2, "color": "#231f20"}, "encoding": {"x": {"field": "group", "type": "nominal"}, "y": {"field": "q1", "type": "quantitative"}, "y2": {"field": "q3"}}},
      {"data": {"name": "points"}, "transform": [{"filter": "datum.panel==='tat'"}, {"aggregate": [{"op": "count", "as": "n"}], "groupby": ["group"]}], "mark": {"type": "line", "color": "#231f20", "strokeWidth": 1.8}, "encoding": {"x": {"field": "group", "type": "nominal"}, "y": {"datum": 66.5}}},
      {"data": {"name": "tests"}, "transform": [{"filter": "datum.panel==='tat'"}], "mark": {"type": "text", "align": "center", "baseline": "alphabetic", "dx": 45, "dy": -11}, "encoding": {"x": {"datum": "Non-ICU"}, "y": {"datum": 66.5}, "text": {"field": "p"}}},
      {"data": {"name": "refs"}, "transform": [{"filter": "datum.panel==='tat' && indexof(datum.label,'Limit')===0"}], "mark": {"type": "text", "align": "left", "baseline": "alphabetic", "dx": 80, "dy": -31, "lineBreak": "\n", "lineHeight": 18}, "encoding": {"x": {"datum": "ICU"}, "y": {"field": "value", "type": "quantitative"}, "text": {"field": "label"}}},
      {"data": {"name": "refs"}, "transform": [{"filter": "datum.panel==='tat' && indexof(datum.label,'Limit')!==0"}], "mark": {"type": "text", "align": "left", "baseline": "alphabetic", "dx": 80, "dy": -8}, "encoding": {"x": {"datum": "ICU"}, "y": {"field": "value", "type": "quantitative"}, "text": {"field": "label"}}}
    ]
  },
  {
    "width": 271, "height": 161,
    "title": {"text": "VWF antigen"},
    "layer": [
      {"data": {"name": "bands"}, "transform": [{"filter": "datum.panel==='vag'"}], "mark": {"type": "rect", "color": "#c9e1b6"},
       "encoding": {"y": {"field": "lo", "type": "quantitative", "scale": {"domain": [0, 1000], "nice": false}, "axis": {"title": "VWF antigen (%)", "values": [62, 175, 500, 1000], "format": "d", "labelFontSize": 14.5, "titleX": -54, "titleBaseline": "bottom"}}, "y2": {"field": "hi"}}},
      {"data": {"name": "refs"}, "transform": [{"filter": "datum.panel==='vag'"}], "mark": {"type": "rule", "strokeDash": [4, 3], "color": "#55799a", "strokeWidth": 1.3}, "encoding": {"y": {"field": "value", "type": "quantitative"}}},
      {"mark": {"type": "rule", "color": "#231f20", "strokeWidth": 1.8}, "encoding": {"y": {"datum": 0}}},
      {"data": {"name": "points"}, "transform": [{"filter": "datum.panel==='vag'"}, {"bin": {"step": 40}, "field": "value", "as": "vb"}, {"window": [{"op": "row_number", "as": "slot"}], "groupby": ["group", "vb"], "sort": [{"field": "value", "order": "descending"}]}],
       "mark": {"type": "circle", "size": 32, "opacity": 1},
       "encoding": {
         "x": {"field": "group", "type": "nominal", "scale": {"type": "point", "domain": ["Non-ICU", "ICU"], "range": [51, 140], "padding": 0}, "axis": {"title": null, "domain": false, "labels": false, "ticks": true, "tickSize": 6}},
         "xOffset": {"field": "slot", "type": "quantitative", "scale": {"domain": [1,2,3,4,5,6,7,8,9,10,11,12,13,14,15,16,17,18,19,20,21], "range": [0,9.6,-9.6,19.2,-19.2,28.8,-28.8,38.4,-38.4,48,-48,57.6,-57.6,67.2,-67.2,76.8,-76.8,86.4,-86.4,96,-96]}},
         "y": {"field": "value", "type": "quantitative", "axis": {"title": "VWF antigen (%)", "values": [62, 175, 500, 1000], "format": "d", "labelFontSize": 14.5, "titleX": -54, "titleBaseline": "bottom"}},
         "color": {"field": "group", "type": "nominal", "scale": {"domain": ["Non-ICU", "ICU"], "range": ["#1c5ca8", "#ee3124"]}, "legend": null}}},
      {"data": {"name": "summary"}, "transform": [{"filter": "datum.panel==='vag'"}], "mark": {"type": "tick", "orient": "horizontal", "size": 68, "thickness": 2, "color": "#231f20", "opacity": 1}, "encoding": {"x": {"field": "group", "type": "nominal"}, "y": {"field": "median", "type": "quantitative"}}},
      {"data": {"name": "summary"}, "transform": [{"filter": "datum.panel==='vag'"}], "mark": {"type": "tick", "orient": "horizontal", "size": 35, "thickness": 2, "color": "#231f20", "opacity": 1}, "encoding": {"x": {"field": "group", "type": "nominal"}, "y": {"field": "q1", "type": "quantitative"}}},
      {"data": {"name": "summary"}, "transform": [{"filter": "datum.panel==='vag'"}], "mark": {"type": "tick", "orient": "horizontal", "size": 35, "thickness": 2, "color": "#231f20", "opacity": 1}, "encoding": {"x": {"field": "group", "type": "nominal"}, "y": {"field": "q3", "type": "quantitative"}}},
      {"data": {"name": "summary"}, "transform": [{"filter": "datum.panel==='vag'"}], "mark": {"type": "rule", "strokeWidth": 2, "color": "#231f20"}, "encoding": {"x": {"field": "group", "type": "nominal"}, "y": {"field": "q1", "type": "quantitative"}, "y2": {"field": "q3"}}},
      {"data": {"name": "points"}, "transform": [{"filter": "datum.panel==='vag'"}, {"aggregate": [{"op": "count", "as": "n"}], "groupby": ["group"]}], "mark": {"type": "line", "color": "#231f20", "strokeWidth": 1.8}, "encoding": {"x": {"field": "group", "type": "nominal"}, "y": {"datum": 1108.7}}},
      {"data": {"name": "tests"}, "transform": [{"filter": "datum.panel==='vag'"}], "mark": {"type": "text", "align": "center", "baseline": "alphabetic", "dx": 44.5, "dy": -11}, "encoding": {"x": {"datum": "Non-ICU"}, "y": {"datum": 1108.7}, "text": {"field": "p"}}},
      {"data": {"name": "refs"}, "transform": [{"filter": "datum.panel==='vag' && indexof(datum.label,'Limit')===0"}], "mark": {"type": "text", "align": "left", "baseline": "alphabetic", "dx": 68, "dy": -31, "lineBreak": "\n", "lineHeight": 18}, "encoding": {"x": {"datum": "ICU"}, "y": {"field": "value", "type": "quantitative"}, "text": {"field": "label"}}},
      {"data": {"name": "refs"}, "transform": [{"filter": "datum.panel==='vag' && indexof(datum.label,'Limit')!==0"}], "mark": {"type": "text", "align": "left", "baseline": "alphabetic", "dx": 71, "dy": -4}, "encoding": {"x": {"datum": "ICU"}, "y": {"field": "value", "type": "quantitative"}, "text": {"field": "label"}}}
    ]
  },
  {
    "width": 278, "height": 161,
    "title": {"text": "VWF activity*"},
    "resolve": {"scale": {"xOffset": "independent"}},
    "layer": [
      {"data": {"name": "bands"}, "transform": [{"filter": "datum.panel==='vac'"}], "mark": {"type": "rect", "color": "#c9e1b6"},
       "encoding": {"y": {"field": "lo", "type": "quantitative", "scale": {"domain": [0, 390], "nice": false}, "axis": {"title": "VWF activity (%)", "values": [58, 163, 390], "labelFontSize": 14.5, "titleX": -54, "titleBaseline": "bottom"}}, "y2": {"field": "hi"}}},
      {"data": {"name": "refs"}, "transform": [{"filter": "datum.panel==='vac'"}], "mark": {"type": "rule", "strokeDash": [4, 3], "color": "#55799a", "strokeWidth": 1.3}, "encoding": {"y": {"field": "value", "type": "quantitative"}}},
      {"mark": {"type": "rule", "color": "#231f20", "strokeWidth": 1.8}, "encoding": {"y": {"datum": 0}}},
      {"data": {"name": "points"}, "transform": [{"filter": "datum.panel==='vac' && datum.group==='Non-ICU'"}, {"bin": {"step": 15.7}, "field": "value", "as": "vb"}, {"window": [{"op": "row_number", "as": "slot"}], "groupby": ["group", "vb"], "sort": [{"field": "value", "order": "descending"}]}],
       "mark": {"type": "circle", "size": 32, "opacity": 1},
       "encoding": {
         "x": {"field": "group", "type": "nominal", "scale": {"type": "point", "domain": ["Non-ICU", "ICU"], "range": [51, 141], "padding": 0}, "axis": {"title": null, "domain": false, "labels": true, "labelAngle": 0, "labelFontSize": 14, "labelPadding": 4, "labelFlush": false, "ticks": true, "tickSize": 6}},
         "xOffset": {"field": "slot", "type": "quantitative", "scale": {"domain": [1,2,3,4,5,6,7,8,9,10,11,12,13,14,15,16,17,18,19,20,21], "range": [0,9.6,-9.6,19.2,-19.2,28.8,-28.8,38.4,-38.4,48,-48,57.6,-57.6,67.2,-67.2,76.8,-76.8,86.4,-86.4,96,-96]}},
         "y": {"field": "value", "type": "quantitative", "axis": {"title": "VWF activity (%)", "values": [58, 163, 390], "labelFontSize": 14.5, "titleX": -54, "titleBaseline": "bottom"}},
         "color": {"field": "group", "type": "nominal", "scale": {"domain": ["Non-ICU", "ICU"], "range": ["#1c5ca8", "#ee3124"]}, "legend": null}}},
      {"data": {"name": "points"}, "transform": [{"filter": "datum.panel==='vac' && datum.group==='ICU'"}, {"bin": {"step": 15.7}, "field": "value", "as": "vb"}, {"window": [{"op": "row_number", "as": "slot"}], "groupby": ["group", "vb"], "sort": [{"field": "value", "order": "descending"}]}],
       "mark": {"type": "circle", "size": 32, "opacity": 1},
       "encoding": {
         "x": {"field": "group", "type": "nominal"},
         "xOffset": {"field": "slot", "type": "quantitative", "scale": {"domain": [1,2,3,4,5,6,7,8,9,10,11,12,13,14,15,16,17,18,19,20,21,22,23,24,25,26,27,28,29,30,31,32,33,34,35,36,37], "range": [0,1.85,-1.85,3.7,-3.7,5.55,-5.55,7.4,-7.4,9.25,-9.25,11.1,-11.1,12.95,-12.95,14.8,-14.8,16.65,-16.65,18.5,-18.5,20.35,-20.35,22.2,-22.2,24.05,-24.05,25.9,-25.9,27.75,-27.75,29.6,-29.6,31.45,-31.45,33.3,-33.3]}},
         "y": {"field": "value", "type": "quantitative"},
         "color": {"field": "group", "type": "nominal"}}},
      {"data": {"name": "summary"}, "transform": [{"filter": "datum.panel==='vac'"}], "mark": {"type": "tick", "orient": "horizontal", "size": 68, "thickness": 2, "color": "#231f20", "opacity": 1}, "encoding": {"x": {"field": "group", "type": "nominal"}, "y": {"field": "median", "type": "quantitative"}}},
      {"data": {"name": "summary"}, "transform": [{"filter": "datum.panel==='vac'"}], "mark": {"type": "tick", "orient": "horizontal", "size": 35, "thickness": 2, "color": "#231f20", "opacity": 1}, "encoding": {"x": {"field": "group", "type": "nominal"}, "y": {"field": "q1", "type": "quantitative"}}},
      {"data": {"name": "summary"}, "transform": [{"filter": "datum.panel==='vac'"}], "mark": {"type": "tick", "orient": "horizontal", "size": 35, "thickness": 2, "color": "#231f20", "opacity": 1}, "encoding": {"x": {"field": "group", "type": "nominal"}, "y": {"field": "q3", "type": "quantitative"}}},
      {"data": {"name": "summary"}, "transform": [{"filter": "datum.panel==='vac'"}], "mark": {"type": "rule", "strokeWidth": 2, "color": "#231f20"}, "encoding": {"x": {"field": "group", "type": "nominal"}, "y": {"field": "q1", "type": "quantitative"}, "y2": {"field": "q3"}}},
      {"data": {"name": "points"}, "transform": [{"filter": "datum.panel==='vac'"}, {"aggregate": [{"op": "count", "as": "n"}], "groupby": ["group"]}], "mark": {"type": "line", "color": "#231f20", "strokeWidth": 1.8}, "encoding": {"x": {"field": "group", "type": "nominal"}, "y": {"datum": 432.4}}},
      {"data": {"name": "tests"}, "transform": [{"filter": "datum.panel==='vac'"}], "mark": {"type": "text", "align": "center", "baseline": "alphabetic", "dx": 45, "dy": -11}, "encoding": {"x": {"datum": "Non-ICU"}, "y": {"datum": 432.4}, "text": {"field": "p"}}},
      {"data": {"name": "refs"}, "transform": [{"filter": "datum.panel==='vac' && indexof(datum.label,'Limit')===0"}], "mark": {"type": "text", "align": "left", "baseline": "alphabetic", "dx": 79, "dy": -31, "lineBreak": "\n", "lineHeight": 18}, "encoding": {"x": {"datum": "ICU"}, "y": {"field": "value", "type": "quantitative"}, "text": {"field": "label"}}},
      {"data": {"name": "refs"}, "transform": [{"filter": "datum.panel==='vac' && indexof(datum.label,'Limit')!==0"}], "mark": {"type": "text", "align": "left", "baseline": "alphabetic", "dx": 80, "dy": -5}, "encoding": {"x": {"datum": "ICU"}, "y": {"field": "value", "type": "quantitative"}, "text": {"field": "label"}}}
    ]
  },
  {
    "width": 271, "height": 161,
    "title": {"text": "Factor VIII activity"},
    "layer": [
      {"data": {"name": "bands"}, "transform": [{"filter": "datum.panel==='f8'"}], "mark": {"type": "rect", "color": "#c9e1b6"},
       "encoding": {"y": {"field": "lo", "type": "quantitative", "scale": {"domain": [0, 600], "nice": false}, "axis": {"title": "Factor VIII activity (%)", "values": [66, 143, 300, 600], "labelFontSize": 14.5, "titleX": -54, "titleBaseline": "bottom"}}, "y2": {"field": "hi"}}},
      {"data": {"name": "refs"}, "transform": [{"filter": "datum.panel==='f8'"}], "mark": {"type": "rule", "strokeDash": [4, 3], "color": "#55799a", "strokeWidth": 1.3}, "encoding": {"y": {"field": "value", "type": "quantitative"}}},
      {"mark": {"type": "rule", "color": "#231f20", "strokeWidth": 1.8}, "encoding": {"y": {"datum": 0}}},
      {"data": {"name": "points"}, "transform": [{"filter": "datum.panel==='f8'"}, {"bin": {"step": 24}, "field": "value", "as": "vb"}, {"window": [{"op": "row_number", "as": "slot"}], "groupby": ["group", "vb"], "sort": [{"field": "value", "order": "descending"}]}],
       "mark": {"type": "circle", "size": 32, "opacity": 1},
       "encoding": {
         "x": {"field": "group", "type": "nominal", "scale": {"type": "point", "domain": ["Non-ICU", "ICU"], "range": [51, 140], "padding": 0}, "axis": {"title": null, "domain": false, "labels": true, "labelAngle": 0, "labelFontSize": 14, "labelPadding": 4, "labelFlush": false, "ticks": true, "tickSize": 6}},
         "xOffset": {"field": "slot", "type": "quantitative", "scale": {"domain": [1,2,3,4,5,6,7,8,9,10,11,12,13,14,15,16,17,18,19,20,21], "range": [0,9.6,-9.6,19.2,-19.2,28.8,-28.8,38.4,-38.4,48,-48,57.6,-57.6,67.2,-67.2,76.8,-76.8,86.4,-86.4,96,-96]}},
         "y": {"field": "value", "type": "quantitative", "axis": {"title": "Factor VIII activity (%)", "values": [66, 143, 300, 600], "labelFontSize": 14.5, "titleX": -54, "titleBaseline": "bottom"}},
         "color": {"field": "group", "type": "nominal", "scale": {"domain": ["Non-ICU", "ICU"], "range": ["#1c5ca8", "#ee3124"]}, "legend": null}}},
      {"data": {"name": "summary"}, "transform": [{"filter": "datum.panel==='f8'"}], "mark": {"type": "tick", "orient": "horizontal", "size": 68, "thickness": 2, "color": "#231f20", "opacity": 1}, "encoding": {"x": {"field": "group", "type": "nominal"}, "y": {"field": "median", "type": "quantitative"}}},
      {"data": {"name": "summary"}, "transform": [{"filter": "datum.panel==='f8'"}], "mark": {"type": "tick", "orient": "horizontal", "size": 35, "thickness": 2, "color": "#231f20", "opacity": 1}, "encoding": {"x": {"field": "group", "type": "nominal"}, "y": {"field": "q1", "type": "quantitative"}}},
      {"data": {"name": "summary"}, "transform": [{"filter": "datum.panel==='f8'"}], "mark": {"type": "tick", "orient": "horizontal", "size": 35, "thickness": 2, "color": "#231f20", "opacity": 1}, "encoding": {"x": {"field": "group", "type": "nominal"}, "y": {"field": "q3", "type": "quantitative"}}},
      {"data": {"name": "summary"}, "transform": [{"filter": "datum.panel==='f8'"}], "mark": {"type": "rule", "strokeWidth": 2, "color": "#231f20"}, "encoding": {"x": {"field": "group", "type": "nominal"}, "y": {"field": "q1", "type": "quantitative"}, "y2": {"field": "q3"}}},
      {"data": {"name": "points"}, "transform": [{"filter": "datum.panel==='f8'"}, {"aggregate": [{"op": "count", "as": "n"}], "groupby": ["group"]}], "mark": {"type": "line", "color": "#231f20", "strokeWidth": 1.8}, "encoding": {"x": {"field": "group", "type": "nominal"}, "y": {"datum": 665.2}}},
      {"data": {"name": "tests"}, "transform": [{"filter": "datum.panel==='f8'"}], "mark": {"type": "text", "align": "center", "baseline": "alphabetic", "dx": 44.5, "dy": -11}, "encoding": {"x": {"datum": "Non-ICU"}, "y": {"datum": 665.2}, "text": {"field": "p"}}},
      {"data": {"name": "refs"}, "transform": [{"filter": "datum.panel==='f8' && indexof(datum.label,'Limit')===0"}], "mark": {"type": "text", "align": "left", "baseline": "alphabetic", "dx": 68, "dy": -31, "lineBreak": "\n", "lineHeight": 18}, "encoding": {"x": {"datum": "ICU"}, "y": {"field": "value", "type": "quantitative"}, "text": {"field": "label"}}},
      {"data": {"name": "refs"}, "transform": [{"filter": "datum.panel==='f8' && indexof(datum.label,'Limit')!==0"}], "mark": {"type": "text", "align": "left", "baseline": "alphabetic", "dx": 72, "dy": -5}, "encoding": {"x": {"datum": "ICU"}, "y": {"field": "value", "type": "quantitative"}, "text": {"field": "label"}}}
    ]
  }
]
}
